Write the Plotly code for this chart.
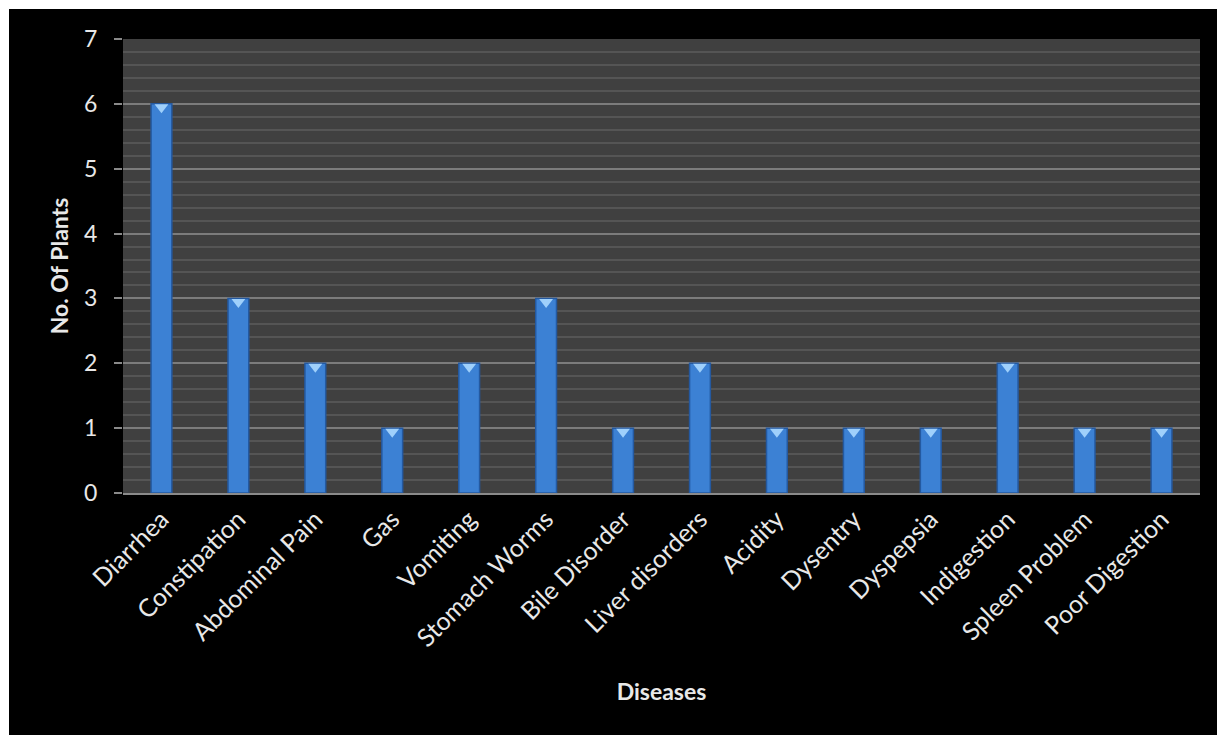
import plotly.graph_objects as go

# Number of plants used against each digestive disease
diseases = [
    "Diarrhea", "Constipation", "Abdominal Pain", "Gas", "Vomiting",
    "Stomach Worms", "Bile Disorder", "Liver disorders", "Acidity",
    "Dysentry", "Dyspepsia", "Indigestion", "Spleen Problem", "Poor Digestion",
]
plant_counts = [6, 3, 2, 1, 2, 3, 1, 2, 1, 1, 1, 2, 1, 1]
y_ticks = [0, 1, 2, 3, 4, 5, 6, 7]

W, H = 1217, 735
ML, MR, MT, MB = 123, 17, 39, 242
PW, PH = W - ML - MR, H - MT - MB

FONT = "Lato"
TXT = "#e8e8e8"

# small downward shift (in axis units) so the bevel cap sits inside the column top
cap_shift = 7 / PH * 3.5

fig = go.Figure()

fig.add_trace(go.Bar(
    x=diseases,
    y=plant_counts,
    marker=dict(color="#3c81d4", line=dict(color="#2459a0", width=1.5)),
    width=0.27,
    hoverinfo="x+y",
))

# light bevel cap at the top of each column
fig.add_trace(go.Scatter(
    x=diseases,
    y=plant_counts,
    yaxis="y2",
    mode="markers",
    marker=dict(symbol="triangle-down", size=12, color="#9fd0fb",
                line=dict(width=0)),
    hoverinfo="skip",
))


def px_to_paper_x(px):
    return (px - ML) / PW


def px_to_paper_y(py):
    return (H - MB - py) / PH


fig.update_layout(
    width=W,
    height=H,
    margin=dict(l=ML, r=MR, t=MT, b=MB),
    paper_bgcolor="#000000",
    plot_bgcolor="#404040",
    showlegend=False,
    font=dict(family=FONT, color=TXT, size=22),
    xaxis=dict(
        range=[-0.5, len(diseases) - 0.5],
        tickangle=-45,
        tickfont=dict(family=FONT, size=25, color=TXT),
        showgrid=False,
        showline=True,
        linecolor="#8a8a8a",
        linewidth=1.5,
        ticks="",
        title=dict(text="<b>Diseases</b>", font=dict(family=FONT, size=23, color=TXT),
                   standoff=33),
    ),
    yaxis=dict(
        range=[0, 7],
        tickvals=y_ticks,
        tickfont=dict(family=FONT, size=23, color=TXT),
        ticks="outside",
        ticklen=8,
        tickcolor="#8a8a8a",
        tickwidth=1.5,
        ticklabelstandoff=12,
        showline=False,
        showgrid=True,
        gridcolor="#7c7c7c",
        gridwidth=1.5,
        zeroline=False,
        minor=dict(dtick=0.2, showgrid=True, gridcolor="#555555", gridwidth=1.5,
                   ticks=""),
        title=dict(text="<b>No. Of Plants</b>", font=dict(family=FONT, size=23, color=TXT),
                   standoff=9),
    ),
    yaxis2=dict(
        overlaying="y",
        range=[cap_shift, 7 + cap_shift],
        visible=False,
    ),
    shapes=[
        # white border strips along the top and left edges
        dict(type="rect", xref="paper", yref="paper", layer="above",
             x0=px_to_paper_x(0), x1=px_to_paper_x(W),
             y0=px_to_paper_y(9), y1=px_to_paper_y(0),
             fillcolor="#ffffff", line=dict(width=0)),
        dict(type="rect", xref="paper", yref="paper", layer="above",
             x0=px_to_paper_x(0), x1=px_to_paper_x(9),
             y0=px_to_paper_y(H), y1=px_to_paper_y(0),
             fillcolor="#ffffff", line=dict(width=0)),
    ],
)

fig.write_html("out.html")
